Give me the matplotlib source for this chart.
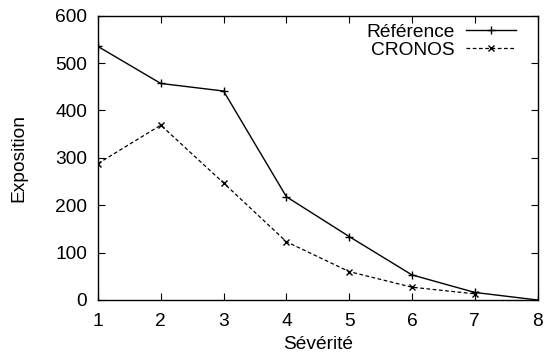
import matplotlib
matplotlib.use("Agg")
import matplotlib.pyplot as plt

# Données
severite = [1, 2, 3, 4, 5, 6, 7, 8]
reference = [535, 457, 441, 218, 134, 53, 16, 0]
severite_cronos = [1, 2, 3, 4, 5, 6, 7]
cronos = [288, 369, 247, 123, 60, 27, 13]

x_ticks = list(range(1, 9))
y_ticks = list(range(0, 601, 100))

FS = 13.8
plt.rcParams['font.family'] = ['Liberation Sans', 'DejaVu Sans']
plt.rcParams['font.size'] = FS

fig = plt.figure(figsize=(5.45, 3.58), dpi=100)
ax = fig.add_axes([98 / 545, 58 / 358, 439.5 / 545, 284.3 / 358])

ax.plot(severite, reference, '-', color='black', linewidth=1.0,
        marker='+', markersize=6, markeredgewidth=1.0, label='Référence')
ax.plot(severite_cronos, cronos, '--', color='black', linewidth=0.9,
        dashes=(3, 2), marker='x', markersize=5, markeredgewidth=1.0,
        label='CRONOS')

ax.set_xlim(1, 8)
ax.set_ylim(0, 600)
ax.set_xticks(x_ticks)
ax.set_yticks(y_ticks)
ax.tick_params(direction='in', top=True, right=True, length=5, width=0.8,
               labelsize=FS)
ax.tick_params(axis='x', pad=9)
ax.tick_params(axis='y', pad=8)
for s in ax.spines.values():
    s.set_linewidth(1.0)

ax.set_xlabel('Sévérité', fontsize=FS, labelpad=5)
ax.set_ylabel('Exposition', fontsize=FS, labelpad=20)

ax.legend(loc='upper right', frameon=False, markerfirst=False,
          handlelength=2.6, handletextpad=0.6, labelspacing=0.05,
          borderaxespad=0.1, borderpad=0.3, fontsize=FS,
          bbox_to_anchor=(0.968, 1.0))

fig.savefig('out.png', dpi=100)
